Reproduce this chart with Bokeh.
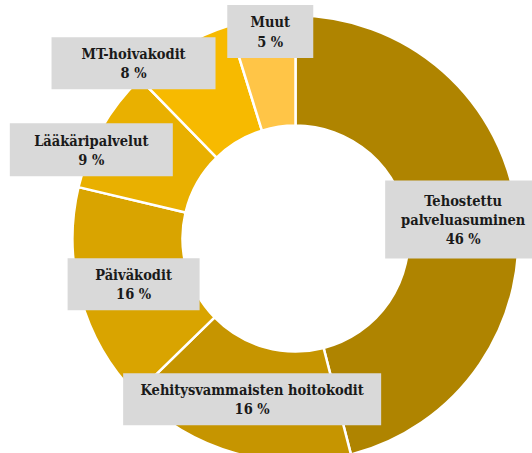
import math
from bokeh.plotting import figure
from bokeh.models import Range1d, ColumnDataSource
from bokeh.core.properties import value
from bokeh.embed import file_html
from bokeh.resources import INLINE

# ---- data ----
categories = ["Tehostettu\npalveluasuminen", "Kehitysvammaisten hoitokodit",
              "Päiväkodit", "Lääkäripalvelut", "MT-hoivakodit", "Muut"]
shares = [46.0, 16.7, 16.0, 9.0, 7.5, 4.8]
pct_labels = ["46 %", "16 %", "16 %", "9 %", "8 %", "5 %"]

# ---- styles / layout ----
colors = ["#AF8400", "#C69500", "#D9A400", "#E9B000", "#F7BA00", "#FFC547"]
W, H = 532, 453
cx, cy = 295, H - 238
R_out, R_in = 223, 113
label_offsets = [(1, -2), (2, 1), (0, -1), (-58, 6), (-76, 31), (0, 41)]
box_w = [156, 258, 132, 163, 164, 86]
box_h = [78, 52, 52, 53, 52, 53]
line_h = 19.3
font = "DejaVu Serif Condensed"

p = figure(width=W, height=H, x_range=Range1d(0, W), y_range=Range1d(0, H),
           x_axis_type=None, y_axis_type=None, toolbar_location=None,
           output_backend="svg", min_border=0)
p.outline_line_color = None
p.grid.visible = False
p.background_fill_color = "white"
p.border_fill_color = "white"

total = sum(shares)
starts, ends, mids = [], [], []
c = 0.0
for v in shares:
    a0 = c / total * 2 * math.pi
    c += v
    a1 = c / total * 2 * math.pi
    # clockwise from top -> bokeh angles (anticlockwise from +x)
    starts.append(math.pi / 2 - a1)
    ends.append(math.pi / 2 - a0)
    mids.append((a0 + a1) / 2)

src = ColumnDataSource(dict(start=starts, end=ends, color=colors))
p.annular_wedge(x=cx, y=cy, inner_radius=R_in, outer_radius=R_out,
                start_angle="start", end_angle="end", fill_color="color",
                line_color="white", line_width=2.5, source=src)

r_mid = (R_in + R_out) / 2
bx, by = [], []
tx, ty, tt = [], [], []
for i, (cat, pct) in enumerate(zip(categories, pct_labels)):
    ax = cx + r_mid * math.sin(mids[i]) + label_offsets[i][0]
    ay = cy + r_mid * math.cos(mids[i]) + label_offsets[i][1]
    bx.append(ax)
    by.append(ay)
    lines = cat.split("\n") + [pct]
    n = len(lines)
    for j, ln in enumerate(lines):
        tx.append(ax)
        ty.append(ay + ((n - 1) / 2 - j) * line_h)
        tt.append(ln)

p.rect(x=bx, y=by, width=box_w, height=box_h, fill_color="#D9D9D9",
       line_color=None)
p.text(x=tx, y=ty, text=tt, text_align="center", text_baseline="middle",
       text_font=value(font), text_font_style="bold", text_font_size="14.5px",
       text_color="#1A1A1A")

open("out.html", "w").write(file_html(p, INLINE))
